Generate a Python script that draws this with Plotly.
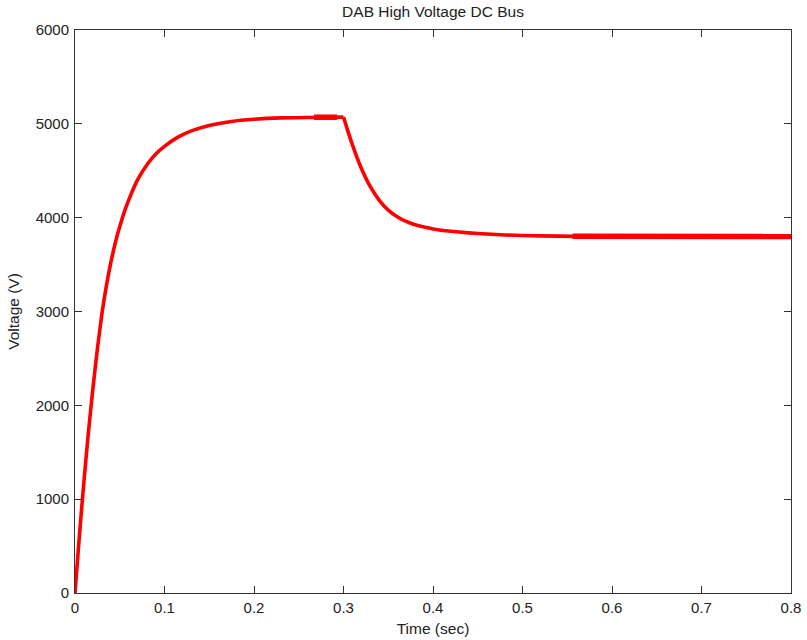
import plotly.graph_objects as go

# Values
# charging phase (0 .. 0.3 s)
rise_t = [0.0, 0.004, 0.008, 0.012, 0.016, 0.020, 0.025, 0.030, 0.035, 0.040,
          0.045, 0.050, 0.056, 0.062, 0.070, 0.082, 0.090, 0.100, 0.115, 0.130,
          0.150, 0.175, 0.200, 0.230, 0.260, 0.300]
rise_v = [0, 500, 968, 1404, 1808, 2180, 2600, 2970, 3270, 3520,
          3730, 3905, 4085, 4235, 4405, 4585, 4677, 4760, 4858, 4925,
          4983, 5025, 5048, 5063, 5068, 5072]
# load step / discharge phase (0.3 .. 0.8 s)
fall_t = [0.300, 0.305, 0.310, 0.315, 0.320, 0.330, 0.340, 0.350, 0.360, 0.370,
          0.380, 0.390, 0.400, 0.420, 0.440, 0.460, 0.480, 0.520, 0.560, 0.650, 0.800]
fall_v = [5072, 4920, 4775, 4643, 4525, 4330, 4185, 4080, 4010, 3960,
          3925, 3900, 3880, 3855, 3838, 3826, 3816, 3806, 3801, 3800, 3800]

# segments drawn with a thicker stroke (ripple)
ripple1_t = [0.267, 0.293]
ripple1_v = [5069, 5071]
ripple2_t = [0.556, 0.8]
ripple2_v = [3801, 3800]

x_ticks = [0, 0.1, 0.2, 0.3, 0.4, 0.5, 0.6, 0.7, 0.8]
x_tick_text = ["0", "0.1", "0.2", "0.3", "0.4", "0.5", "0.6", "0.7", "0.8"]
y_ticks = [0, 1000, 2000, 3000, 4000, 5000, 6000]
y_tick_text = ["0", "1000", "2000", "3000", "4000", "5000", "6000"]

RED = "#ff0000"
fig = go.Figure()
for xs, ys in ((rise_t, rise_v), (fall_t, fall_v)):
    fig.add_trace(go.Scatter(x=xs, y=ys, mode="lines",
                             line=dict(color=RED, width=3.6, shape="spline", smoothing=0.6),
                             showlegend=False, hoverinfo="skip"))
for xs, ys in ((ripple1_t, ripple1_v), (ripple2_t, ripple2_v)):
    fig.add_trace(go.Scatter(x=xs, y=ys, mode="lines",
                             line=dict(color=RED, width=5.5),
                             showlegend=False, hoverinfo="skip"))

font_family = "Liberation Sans, Arial, Helvetica, sans-serif"
TXT = "#222222"
axis_common = dict(showgrid=False, zeroline=False, showline=True, linecolor="#333333",
                   linewidth=1, mirror="ticks", ticks="inside", ticklen=7,
                   tickcolor="#333333", tickwidth=1, automargin=False,
                   tickfont=dict(family=font_family, size=15, color=TXT))

fig.update_layout(
    width=807, height=640,
    margin=dict(l=75, r=16, t=30, b=47),
    paper_bgcolor="white", plot_bgcolor="white",
    title=dict(text="DAB High Voltage DC Bus", xref="paper", x=0.5, xanchor="center",
               yref="container", y=1 - 12 / 640, yanchor="middle",
               font=dict(family=font_family, size=15.5, color=TXT)),
    xaxis=dict(range=[0, 0.8], tickvals=x_ticks, ticktext=x_tick_text,
               ticklabelstandoff=1,
               title=dict(text="Time (sec)", standoff=8,
                          font=dict(family=font_family, size=15.5, color=TXT)),
               **axis_common),
    yaxis=dict(range=[0, 6000], tickvals=y_ticks, ticktext=y_tick_text,
               ticklabelstandoff=2,
               title=dict(text="Voltage (V)", standoff=12,
                          font=dict(family=font_family, size=15.5, color=TXT)),
               **axis_common),
)

fig.write_html("out.html", config={"displayModeBar": False},
               post_script="document.body.style.margin='0px';")
